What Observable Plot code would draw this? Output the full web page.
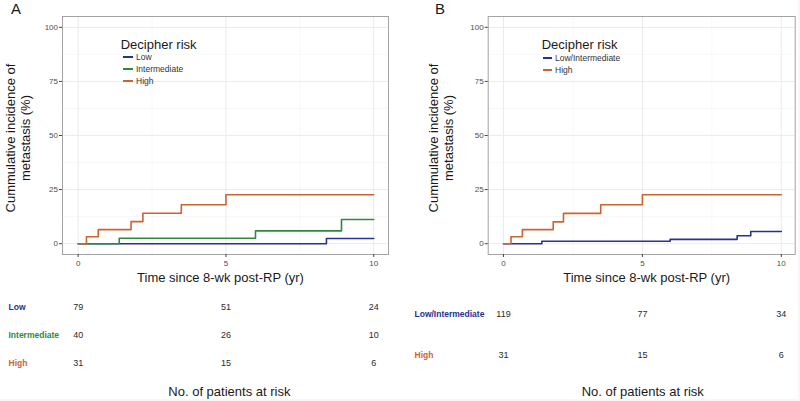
<!DOCTYPE html>
<html>
<head>
<meta charset="utf-8">
<script src="https://cdn.jsdelivr.net/npm/d3@7"></script>
<script src="https://cdn.jsdelivr.net/npm/@observablehq/plot@0.6"></script>
<style>
  html, body { margin: 0; padding: 0; background: #fcf6f6; }
  #root { position: relative; width: 798px; height: 399px; background: #fff; overflow: hidden;
          font-family: "Liberation Sans", Arial, Helvetica, sans-serif; color: #1a1a1a; }
  .abs { position: absolute; white-space: nowrap; }
  .panel { position: absolute; }
  .ytitle { position: absolute; width: 220px; text-align: center; font-size: 13px; line-height: 15px;
            transform: translate(-50%, -50%) rotate(-90deg); }
  .ctitle { position: absolute; font-size: 13px; transform: translate(-50%, -50%); white-space: nowrap; }
  .legtitle { position: absolute; font-size: 13px; transform: translateY(-50%); white-space: nowrap; }
  .legitem { position: absolute; font-size: 8.5px; transform: translateY(-50%); white-space: nowrap; color: #333; }
  .swatch { position: absolute; height: 2px; transform: translateY(-50%); }
</style>
</head>
<body>
<div id="root"></div>
<script>
// ---------- Data ----------
const colLow = "#26328f";
const colInt = "#2e8b3c";
const colHigh = "#cc6430";

// Panel A curves (time in years, cumulative incidence %)
const timeA_low = [0, 8.4, 10];
const incA_low = [0, 2.4, 2.4];
const timeA_int = [0, 1.39, 6.0, 8.91, 10];
const incA_int = [0, 2.5, 5.9, 11.2, 11.2];
const timeA_high = [0, 0.28, 0.68, 1.79, 2.19, 3.49, 5.0, 10];
const incA_high = [0, 3.2, 6.5, 10.2, 14.1, 18.0, 22.6, 22.6];

// Panel B curves
const timeB_lowint = [0, 1.38, 6.0, 8.41, 8.9, 10];
const incB_lowint = [0, 1.1, 2.0, 3.7, 5.6, 5.6];
const timeB_high = [0, 0.27, 0.68, 1.79, 2.16, 3.5, 5.0, 10];
const incB_high = [0, 3.2, 6.5, 10.1, 14.0, 18.0, 22.6, 22.6];

// Risk tables
const riskTimes = [0, 5, 10];
const groupsA = ["Low", "Intermediate", "High"];
const riskA_low = [79, 51, 24];
const riskA_int = [40, 26, 10];
const riskA_high = [31, 15, 6];
const groupsB = ["Low/Intermediate", "High"];
const riskB_lowint = [119, 77, 34];
const riskB_high = [31, 15, 6];

// Ticks
const xTicks = [0, 5, 10];
const xMinor = [2.5, 7.5];
const yTicks = [0, 25, 50, 75, 100];
const yMinor = [12.5, 37.5, 62.5, 87.5];

// ---------- Helpers ----------
function series(times, vals, group) {
  return times.map((t, i) => ({ time: t, inc: vals[i], group }));
}
function riskRows(groups, arrays) {
  const rows = [];
  groups.forEach((g, gi) => riskTimes.forEach((t, i) => rows.push({ group: g, time: t, n: arrays[gi][i] })));
  return rows;
}

const root = document.getElementById("root");
function place(node, left, top) {
  node.style.position = "absolute";
  node.style.left = left + "px";
  node.style.top = top + "px";
  root.appendChild(node);
}
function div(cls, text, styles) {
  const d = document.createElement("div");
  d.className = cls;
  d.textContent = text;
  Object.assign(d.style, styles || {});
  root.appendChild(d);
  return d;
}

function chart(curves, colors, xDomain, ml, mr) {
  return Plot.plot({
    width: 400, height: 270,
    marginLeft: ml, marginRight: mr, marginTop: 16, marginBottom: 16,
    style: { fontFamily: "Liberation Sans, Arial, sans-serif", fontSize: "8px", color: "#4d4d4d", background: "transparent" },
    x: { domain: xDomain },
    y: { domain: [-5, 105] },
    marks: [
      Plot.gridX(xMinor, { stroke: "#f3f3f3", strokeOpacity: 1, strokeWidth: 0.6 }),
      Plot.gridY(yMinor, { stroke: "#f3f3f3", strokeOpacity: 1, strokeWidth: 0.6 }),
      Plot.gridX(xTicks, { stroke: "#ebebeb", strokeOpacity: 1, strokeWidth: 1 }),
      Plot.gridY(yTicks, { stroke: "#ebebeb", strokeOpacity: 1, strokeWidth: 1 }),
      ...curves.map((c, i) => Plot.line(c, { x: "time", y: "inc", curve: "step-after", stroke: colors[i], strokeWidth: 1.6 })),
      Plot.frame({ stroke: "#a3a3a3", strokeWidth: 1 }),
      Plot.axisX(xTicks, { tickSize: 3, tickPadding: 3, stroke: "#444", fill: "#4d4d4d", label: null }),
      Plot.axisY(yTicks, { tickSize: 3, tickPadding: 1.5, stroke: "#444", fill: "#4d4d4d", label: null })
    ]
  });
}

function table(groups, colors, rows, xDomain, ml, mr, mt, mb, labelDx) {
  const colorOf = new Map(groups.map((g, i) => [g, colors[i]]));
  return Plot.plot({
    width: 400, height: 85,
    marginLeft: ml, marginRight: mr, marginTop: mt, marginBottom: mb,
    style: { fontFamily: "Liberation Sans, Arial, sans-serif", background: "transparent", overflow: "visible" },
    x: { domain: xDomain, axis: null },
    y: { type: "point", domain: groups, padding: 0, axis: null },
    marks: [
      Plot.text(rows, { x: "time", y: "group", text: d => String(d.n), fontSize: 9, fill: "#2a2a2a" }),
      Plot.text(groups, { y: d => d, text: d => d, frameAnchor: "left", dx: labelDx, textAnchor: "start",
        fill: d => colorOf.get(d), fontWeight: "bold", fontSize: 8.5 })
    ]
  });
}

// ---------- Panel A ----------
const xDomA = [-0.53, 10.5];
const chartA = chart(
  [series(timeA_low, incA_low, "Low"), series(timeA_int, incA_int, "Intermediate"), series(timeA_high, incA_high, "High")],
  [colLow, colInt, colHigh], xDomA, 62, 12);
place(chartA, 0, 0);

const tableA = table(groupsA, [colLow, colInt, colHigh],
  riskRows(groupsA, [riskA_low, riskA_int, riskA_high]), xDomA, 62, 12, 16.7, 12.3, -54);
place(tableA, 0, 290);

// ---------- Panel B ----------
const xDomB = [-0.55, 10.5];
const chartB = chart(
  [series(timeB_lowint, incB_lowint, "Low/Intermediate"), series(timeB_high, incB_high, "High")],
  [colLow, colHigh], xDomB, 87.7, 5.3);
place(chartB, 400, 0);

const tableB = table(groupsB, [colLow, colHigh],
  riskRows(groupsB, [riskB_lowint, riskB_high]), xDomB, 87.7, 5.3, 24, 20, -73.7);
place(tableB, 400, 290);

// ---------- Text overlays ----------
div("abs", "A", { left: "11px", top: "0px", fontSize: "15px" });
div("abs", "B", { left: "435px", top: "0px", fontSize: "15px" });

const yTitleHTML = "Cummulative incidence of<br>metastasis (%)";
const ytA = div("ytitle", "", { left: "18px", top: "138px" }); ytA.innerHTML = yTitleHTML;
const ytB = div("ytitle", "", { left: "441px", top: "138px" }); ytB.innerHTML = yTitleHTML;

div("ctitle", "Time since 8-wk post-RP (yr)", { left: "220.5px", top: "277px" });
div("ctitle", "Time since 8-wk post-RP (yr)", { left: "646.7px", top: "277px" });
div("ctitle", "No. of patients at risk", { left: "229.4px", top: "390.5px" });
div("ctitle", "No. of patients at risk", { left: "642.8px", top: "390.5px" });

// Legends
div("legtitle", "Decipher risk", { left: "120.7px", top: "43.5px" });
const legA = [["Low", colLow, 57], ["Intermediate", colInt, 69.3], ["High", colHigh, 81]];
legA.forEach(([t, c, y]) => {
  div("swatch", "", { left: "123.3px", top: y + "px", width: "9.5px", background: c });
  div("legitem", t, { left: "136px", top: y + "px" });
});
div("legtitle", "Decipher risk", { left: "541.7px", top: "43.5px" });
const legB = [["Low/Intermediate", colLow, 58], ["High", colHigh, 70.3]];
legB.forEach(([t, c, y]) => {
  div("swatch", "", { left: "542.7px", top: y + "px", width: "9.5px", background: c });
  div("legitem", t, { left: "555px", top: y + "px" });
});
</script>
</body>
</html>
